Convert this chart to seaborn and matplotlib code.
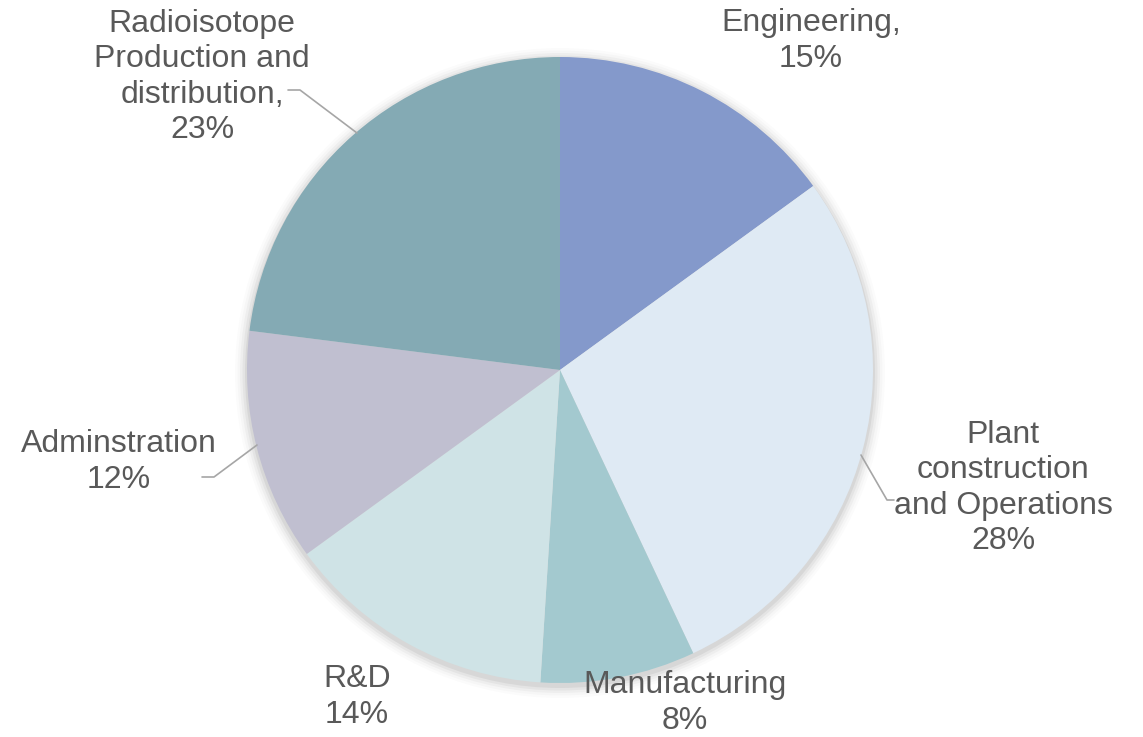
import matplotlib
matplotlib.use("Agg")
import matplotlib.pyplot as plt
import seaborn as sns
from matplotlib.patches import Circle

categories = ["Engineering", "Plant construction and Operations", "Manufacturing",
              "R&D", "Adminstration", "Radioisotope Production and distribution"]
values = [15, 28, 8, 14, 12, 23]
label_texts = ["Engineering,\n15%", "Plant\nconstruction\nand Operations\n28%",
               "Manufacturing\n8%", "R&D\n14%", "Adminstration\n12%",
               "Radioisotope\nProduction and\ndistribution,\n23%"]
colors = ["#8499CB", "#DFEAF4", "#A3C9CF", "#CFE3E6", "#C0BFD0", "#84AAB4"]

sns.set_theme(style="white")
plt.rcParams['font.family'] = ['Liberation Sans', 'DejaVu Sans']

W, H = 1143, 737
fig = plt.figure(figsize=(W / 100, H / 100), dpi=100)
ax = fig.add_axes([0, 0, 1, 1])

cx, cy, r = 560, H - 370, 313

# soft shadow
for i, a in enumerate([0.05, 0.04, 0.03, 0.02, 0.015]):
    ax.add_patch(Circle((cx, cy - 3), r + 2 + i * 2.5, color="#000000", alpha=a, lw=0, zorder=0))

ax.pie(values, colors=colors, startangle=90, counterclock=False,
       center=(cx, cy), radius=r, frame=True,
       wedgeprops=dict(linewidth=0, edgecolor="none"))
ax.set_xlim(0, W)
ax.set_ylim(0, H)
ax.set_aspect("equal")
ax.axis("off")

txt_color = "#595959"
label_pos = [(811, 41), (1003, 488), (685, 703), (357, 697), (119, 462), (202, 77)]
for t, (x, y) in zip(label_texts, label_pos):
    ax.text(x, H - y, t, ha="center", va="center", fontsize=23, color=txt_color,
            linespacing=1.22)

line_color = "#A6A6A6"
leaders = [
    [(288, 90), (300, 90), (357, 133)],
    [(202, 477), (214, 477), (257, 445)],
    [(861, 455), (887, 500), (894, 500)],
]
for pts in leaders:
    xs = [p[0] for p in pts]
    ys = [H - p[1] for p in pts]
    ax.plot(xs, ys, color=line_color, lw=1.2, zorder=5)

fig.savefig("out.png", dpi=100, facecolor="white")
